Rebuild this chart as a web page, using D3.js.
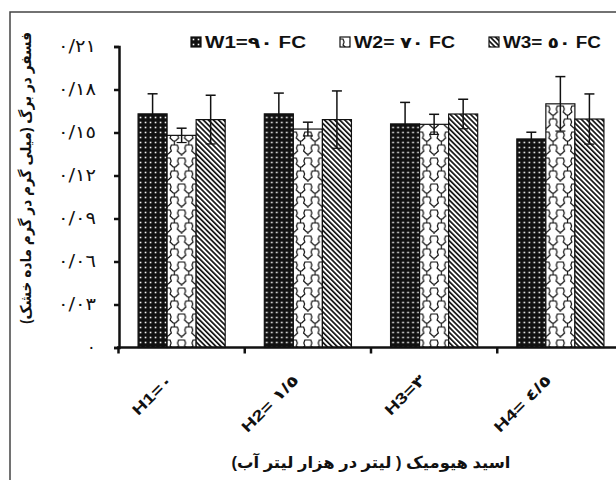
<!DOCTYPE html>
<html>
<head>
<meta charset="utf-8">
<script src="https://cdn.jsdelivr.net/npm/d3@7"></script>
<style>
  html, body { margin: 0; padding: 0; background: #fff; }
  svg { display: block; }
  text { font-family: "Liberation Sans", Arial, "DejaVu Sans", sans-serif; fill: #111; }
</style>
</head>
<body>
<svg id="chart" width="616" height="480"></svg>
<script>
// Phosphorus in leaves under humic acid (H) and irrigation (W) levels
const categories = ["H1=٠", "H2= ١/٥", "H3=٣", "H4= ٤/٥"];
const seriesNames = ["W1=٩٠ FC", "W2= ٧٠ FC", "W3= ٥٠ FC"];
const w1Values = [0.163, 0.163, 0.156, 0.1455];
const w1Errors = [0.014, 0.0145, 0.015, 0.0047];
const w2Values = [0.148, 0.1524, 0.1557, 0.170];
const w2Errors = [0.005, 0.0048, 0.007, 0.019];
const w3Values = [0.159, 0.159, 0.1629, 0.1594];
const w3Errors = [0.017, 0.020, 0.0103, 0.0175];
const yTicks = [0, 0.03, 0.06, 0.09, 0.12, 0.15, 0.18, 0.21];
const yTickLabels = ["٠", "٠/٠٣", "٠/٠٦", "٠/٠٩", "٠/١٢", "٠/١٥", "٠/١٨", "٠/٢١"];
const yTitle = "فسفر در برگ (میلی گرم در گرم ماده خشک)";
const xTitle = "اسید هیومیک ( لیتر در هزار لیتر آب)";

const series = [
  { key: "w1", name: seriesNames[0], values: w1Values, errors: w1Errors },
  { key: "w2", name: seriesNames[1], values: w2Values, errors: w2Errors },
  { key: "w3", name: seriesNames[2], values: w3Values, errors: w3Errors }
];

const svg = d3.select("#chart");
const defs = svg.append("defs");

// W1: black with white dots
const pDots = defs.append("pattern").attr("id", "pat-w1")
  .attr("patternUnits", "userSpaceOnUse").attr("width", 5).attr("height", 5);
pDots.append("rect").attr("width", 5).attr("height", 5).attr("fill", "#111");
pDots.append("rect").attr("x", 1.7).attr("y", 1.7).attr("width", 1.6).attr("height", 1.6).attr("fill", "#fff");

// W2: white with chained cell outlines
const pChain = defs.append("pattern").attr("id", "pat-w2")
  .attr("patternUnits", "userSpaceOnUse").attr("width", 14.5).attr("height", 26);
pChain.append("rect").attr("width", 14.5).attr("height", 26).attr("fill", "#fff");
pChain.append("path")
  .attr("d", "M0,2 L3,2 L4,5 L3,8 L6,11 L8.5,11 L11.5,8 L10.5,5 L11.5,2 L14.5,2" +
             " M7.25,11 L7.25,15 L10.25,15 L11.25,18 L10.25,21 L13.25,24 L14.5,24" +
             " M7.25,15 L4.25,15 L3.25,18 L4.25,21 L1.25,24 L0,24 M0,24 L0,28 M14.5,24 L14.5,28")
  .attr("fill", "none").attr("stroke", "#111").attr("stroke-width", 1.2);

// W3: white with diagonal stripes
const pHatch = defs.append("pattern").attr("id", "pat-w3")
  .attr("patternUnits", "userSpaceOnUse").attr("width", 3.6).attr("height", 10)
  .attr("patternTransform", "rotate(-45)");
pHatch.append("rect").attr("width", 3.6).attr("height", 10).attr("fill", "#fff");
pHatch.append("rect").attr("width", 1.7).attr("height", 10).attr("fill", "#111");

const fills = { w1: "url(#pat-w1)", w2: "url(#pat-w2)", w3: "url(#pat-w3)" };

// Outer frame
svg.append("rect").attr("x", 10).attr("y", 12).attr("width", 640).attr("height", 500)
  .attr("fill", "none").attr("stroke", "#444").attr("stroke-width", 1.5);

// Scales
const y = d3.scaleLinear().domain([0, 0.21]).range([347.5, 46.5]);
const x = d3.scaleBand().domain(categories).range([118.5, 623.5])
  .paddingInner(0.31).paddingOuter(0.155);
const xs = d3.scaleBand().domain(series.map(s => s.key)).range([0, x.bandwidth()]);

// Bars
const groups = svg.append("g").selectAll("g")
  .data(categories).join("g")
  .attr("transform", c => `translate(${x(c)},0)`);

groups.each(function(c, i) {
  const g = d3.select(this);
  series.forEach(s => {
    const v = s.values[i];
    g.append("rect")
      .attr("x", xs(s.key)).attr("y", y(v))
      .attr("width", xs.bandwidth()).attr("height", y(0) - y(v))
      .attr("fill", fills[s.key]).attr("stroke", "#111").attr("stroke-width", 1.2);
  });
  series.forEach(s => {
    const v = s.values[i], e = s.errors[i];
    const cx = xs(s.key) + xs.bandwidth() / 2;
    g.append("line").attr("x1", cx).attr("x2", cx)
      .attr("y1", y(v - e)).attr("y2", y(v + e))
      .attr("stroke", "#111").attr("stroke-width", 1.5);
    g.append("line").attr("x1", cx - 5).attr("x2", cx + 5)
      .attr("y1", y(v + e)).attr("y2", y(v + e))
      .attr("stroke", "#111").attr("stroke-width", 1.5);
    g.append("line").attr("x1", cx - 5).attr("x2", cx + 5)
      .attr("y1", y(v - e)).attr("y2", y(v - e))
      .attr("stroke", "#111").attr("stroke-width", 1.2);
  });
});

// Y axis
const yAxis = d3.axisLeft(y).tickValues(yTicks).tickSize(5).tickPadding(18)
  .tickFormat((d, i) => yTickLabels[i]);
const gy = svg.append("g").attr("transform", "translate(119,0)").call(yAxis);
gy.select(".domain").attr("stroke", "#111").attr("stroke-width", 2.5);
gy.selectAll(".tick line").attr("stroke", "#111").attr("stroke-width", 2.5);
gy.selectAll(".tick text")
  .attr("font-size", 17).attr("fill", "#111")
  .style("font-family", "'DejaVu Sans', sans-serif")
  .each(function(d, i) {
    if (yTickLabels[i].length > 1) d3.select(this).attr("textLength", 38).attr("lengthAdjust", "spacingAndGlyphs");
  });

// X axis with ticks at category boundaries
const half = (x.step() - x.bandwidth()) / 2;
const bounds = categories.map(c => x(c) - half);
svg.append("line").attr("x1", 117).attr("x2", 616).attr("y1", y(0)).attr("y2", y(0))
  .attr("stroke", "#111").attr("stroke-width", 2.5);
svg.append("g").selectAll("line").data(bounds).join("line")
  .attr("x1", d => d).attr("x2", d => d)
  .attr("y1", y(0)).attr("y2", y(0) + 6)
  .attr("stroke", "#111").attr("stroke-width", 2.5);

// Category labels, rotated
const labelLen = [50, 74, 50, 74];
svg.append("g").selectAll("text").data(categories).join("text")
  .attr("transform", c => `translate(${x(c) + x.bandwidth() / 2 - 8},${381}) rotate(-45)`)
  .attr("text-anchor", "end")
  .attr("font-size", 15).attr("font-weight", "bold")
  .attr("textLength", (c, i) => labelLen[i]).attr("lengthAdjust", "spacingAndGlyphs")
  .text(c => c);

// Axis titles
svg.append("text")
  .attr("transform", "translate(31,178) rotate(-90)")
  .attr("text-anchor", "middle").attr("direction", "rtl")
  .attr("font-size", 15).attr("font-weight", "bold")
  .attr("textLength", 292).attr("lengthAdjust", "spacingAndGlyphs")
  .text(yTitle);

svg.append("text")
  .attr("x", 371).attr("y", 468)
  .attr("text-anchor", "middle").attr("direction", "rtl")
  .attr("font-size", 16).attr("font-weight", "bold")
  .attr("textLength", 279).attr("lengthAdjust", "spacingAndGlyphs")
  .text(xTitle);

// Legend
const legendX = [191, 340, 489];
const legendLen = [101, 101, 98];
const legend = svg.append("g").selectAll("g").data(series).join("g")
  .attr("transform", (s, i) => `translate(${legendX[i]},37)`);
legend.append("rect").attr("width", 10).attr("height", 10)
  .attr("fill", s => fills[s.key]).attr("stroke", "#111").attr("stroke-width", 1.2);
legend.append("text")
  .attr("x", 14).attr("y", 11)
  .attr("font-size", 16).attr("font-weight", "bold")
  .attr("textLength", (s, i) => legendLen[i]).attr("lengthAdjust", "spacingAndGlyphs")
  .text(s => s.name);
</script>
</body>
</html>
